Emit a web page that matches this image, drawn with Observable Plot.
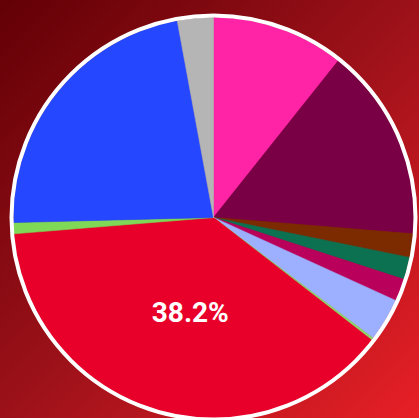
<!DOCTYPE html>
<html>
<head>
<meta charset="utf-8">
<script src="https://cdn.jsdelivr.net/npm/d3@7"></script>
<script src="https://cdn.jsdelivr.net/npm/@observablehq/plot@0.6"></script>
<style>
  html, body { margin: 0; padding: 0; }
  body {
    width: 419px; height: 418px; overflow: hidden;
    background: linear-gradient(135deg, #620006 0%, #9c1119 50%, #e81f26 100%);
    font-family: Roboto, sans-serif;
  }
  svg { display: block; background: transparent; }
</style>
</head>
<body>
<div id="chart"></div>
<script>
// Slices clockwise from 12 o'clock
const categories = ["Pink", "Maroon", "Brown", "Green", "Magenta", "Light blue", "Sliver", "Red", "Light green", "Blue", "Grey"];
const values = [10.7, 15.6, 1.9, 1.8, 1.8, 3.5, 0.2, 38.2, 0.9, 22.5, 2.9];
const colors = ["#ff24a6", "#7a0046", "#7c2a00", "#0b7150", "#b9005a", "#9cb0ff", "#8fd36a", "#e8002a", "#7fd957", "#2447ff", "#b5b5b5"];
const labelled = ["Red"];
const labelText = ["38.2%"];

const arcs = d3.pie().sort(null).value((d, i) => values[i]).startAngle(0).endAngle(2 * Math.PI)(categories);

// polygon outlines for each slice (unit radius, y up)
const pts = [];
arcs.forEach((a, i) => {
  const key = categories[i];
  pts.push({key, x: 0, y: 0});
  const n = Math.max(2, Math.ceil((a.endAngle - a.startAngle) / 0.005));
  for (let k = 0; k <= n; k++) {
    const t = a.startAngle + (a.endAngle - a.startAngle) * k / n;
    pts.push({key, x: Math.sin(t), y: Math.cos(t)});
  }
  pts.push({key, x: 0, y: 0});
});

const labels = labelled.map((name, j) => {
  const a = arcs[categories.indexOf(name)];
  const m = (a.startAngle + a.endAngle) / 2 - 0.06;
  return {x: 0.49 * Math.sin(m), y: 0.49 * Math.cos(m), text: labelText[j]};
});

const chart = Plot.plot({
  width: 419,
  height: 418,
  marginLeft: 13,
  marginRight: 6,
  marginTop: 17,
  marginBottom: 1,
  style: {background: "transparent", overflow: "visible"},
  x: {domain: [-1, 1], axis: null},
  y: {domain: [-1, 1], axis: null},
  color: {domain: categories, range: colors},
  marks: [
    Plot.line(pts, {x: "x", y: "y", z: "key", fill: "key", stroke: "key", strokeWidth: 0.6}),
    Plot.dot([{x: 0, y: 0}], {x: "x", y: "y", r: 202, stroke: "white", strokeWidth: 4, fill: "none"}),
    Plot.text(labels, {x: "x", y: "y", text: "text", fill: "white", fontSize: 28, fontWeight: "bold", fontFamily: "Roboto", dx: -1})
  ]
});
document.getElementById("chart").appendChild(chart);
</script>
</body>
</html>
